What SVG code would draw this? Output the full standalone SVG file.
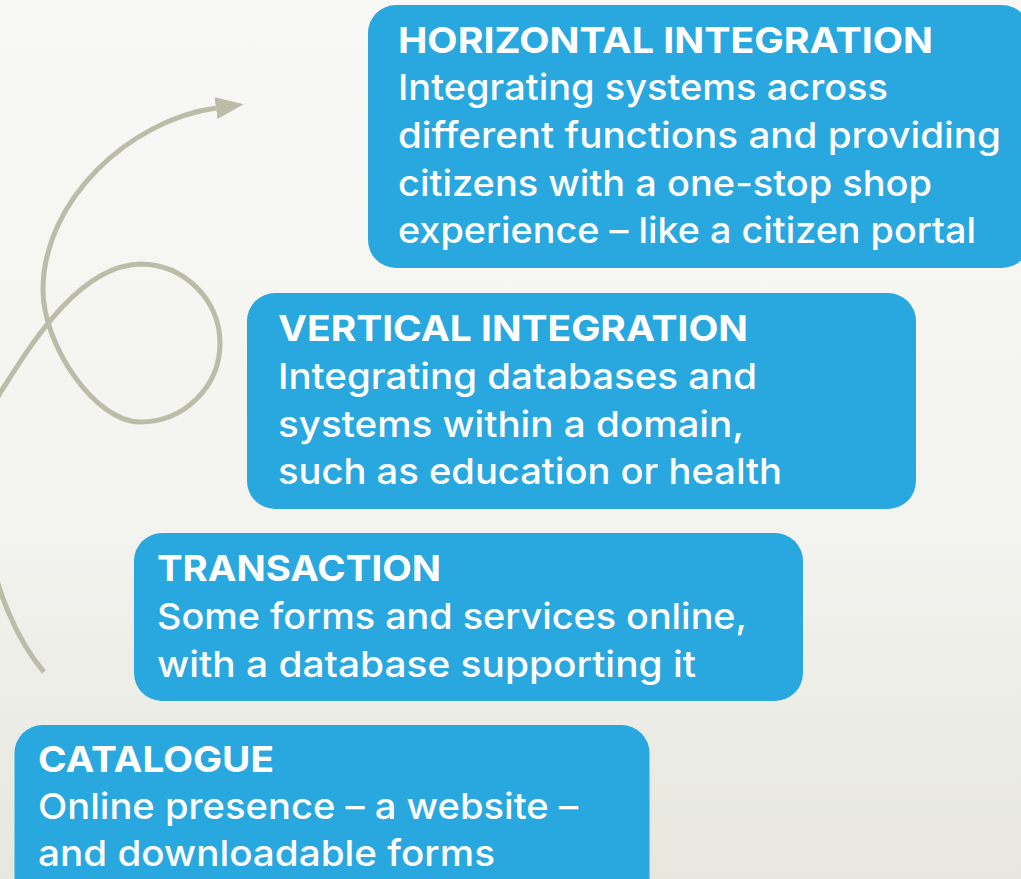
<svg xmlns="http://www.w3.org/2000/svg" width="1021" height="879" viewBox="0 0 1021 879">
  <defs>
    <linearGradient id="bg" x1="0" y1="0" x2="0" y2="1">
      <stop offset="0" stop-color="#f8f8f6"/>
      <stop offset="0.6" stop-color="#f3f3ef"/>
      <stop offset="1" stop-color="#e7e7e0"/>
    </linearGradient>
    <marker id="arrowhead" markerUnits="userSpaceOnUse" markerWidth="28" markerHeight="22" refX="0" refY="11" orient="auto">
      <path d="M0,0 L28,11 L0,22 z" fill="#bbbda8"/>
    </marker>
    <style>
      .box { fill: #28a8df; }
      .title { font-family: Inter, "Open Sans", "Liberation Sans", sans-serif; font-size: 36px; font-weight: 700; fill: #ffffff; }
      .body { font-family: Inter, "Open Sans", "Liberation Sans", sans-serif; font-size: 36px; font-weight: 500; fill: #ffffff; }
      .flow { fill: none; stroke: #bbbda8; stroke-width: 5; stroke-linecap: butt; }
    </style>
  </defs>

  <rect x="0" y="0" width="1021" height="879" fill="url(#bg)"/>

  <!-- looping arrow rising towards the top stage -->
  <g id="connectors">
    <path class="flow" marker-end="url(#arrowhead)"
      d="M44,672 C-10,610 -40,470 0,393
         C25,355 75,266 140,264
         C184,264 220,300 220,343
         C220,387 184,422 140,422
         C95,422 43,345 43,290
         C43,200 130,120 216,108"/>
  </g>

  <g id="horizontal-integration">
    <rect class="box" x="368" y="5" width="662" height="263" rx="28"/>
    <text class="title" x="398" y="53" textLength="535" lengthAdjust="spacingAndGlyphs">HORIZONTAL INTEGRATION</text>
    <text class="body" x="398" y="100" textLength="490" lengthAdjust="spacingAndGlyphs">Integrating systems across</text>
    <text class="body" x="398" y="148" textLength="603" lengthAdjust="spacingAndGlyphs">different functions and providing</text>
    <text class="body" x="398" y="196" textLength="534" lengthAdjust="spacingAndGlyphs">citizens with a one-stop shop</text>
    <text class="body" x="398" y="243" textLength="578" lengthAdjust="spacingAndGlyphs">experience – like a citizen portal</text>
  </g>

  <g id="vertical-integration">
    <rect class="box" x="247" y="293" width="669" height="216" rx="28"/>
    <text class="title" x="278" y="341" textLength="470" lengthAdjust="spacingAndGlyphs">VERTICAL INTEGRATION</text>
    <text class="body" x="278" y="389" textLength="479" lengthAdjust="spacingAndGlyphs">Integrating databases and</text>
    <text class="body" x="278" y="437" textLength="466" lengthAdjust="spacingAndGlyphs">systems within a domain,</text>
    <text class="body" x="278" y="484" textLength="504" lengthAdjust="spacingAndGlyphs">such as education or health</text>
  </g>

  <g id="transaction">
    <rect class="box" x="134" y="533" width="669" height="168" rx="28"/>
    <text class="title" x="157" y="581" textLength="284" lengthAdjust="spacingAndGlyphs">TRANSACTION</text>
    <text class="body" x="157" y="629" textLength="590" lengthAdjust="spacingAndGlyphs">Some forms and services online,</text>
    <text class="body" x="157" y="677" textLength="539" lengthAdjust="spacingAndGlyphs">with a database supporting it</text>
  </g>

  <g id="catalogue">
    <rect class="box" x="14.5" y="725" width="635" height="190" rx="28"/>
    <text class="title" x="38" y="772" textLength="236" lengthAdjust="spacingAndGlyphs">CATALOGUE</text>
    <text class="body" x="38" y="819" textLength="540" lengthAdjust="spacingAndGlyphs">Online presence – a website –</text>
    <text class="body" x="38" y="866" textLength="457" lengthAdjust="spacingAndGlyphs">and downloadable forms</text>
  </g>
</svg>
